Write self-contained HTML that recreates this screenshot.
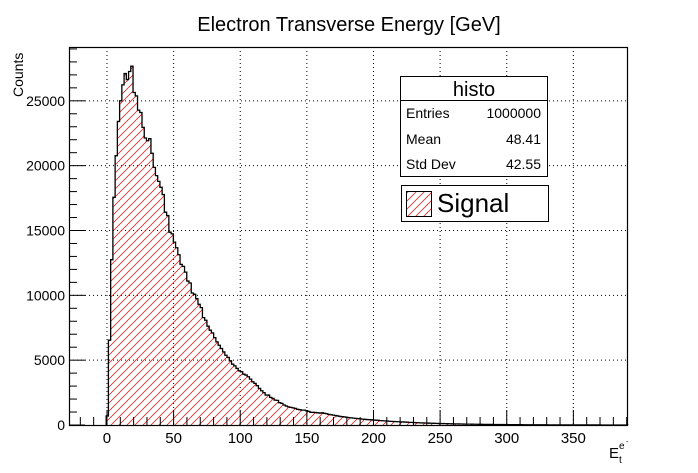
<!DOCTYPE html>
<html><head><meta charset="utf-8"><style>
html,body{margin:0;padding:0;background:#fff;}
svg{display:block;font-family:"Liberation Sans",sans-serif;}
</style></head><body>
<svg id="chart" width="698" height="473" viewBox="0 0 698 473" xmlns="http://www.w3.org/2000/svg">
<defs>
<pattern id="hatch" patternUnits="userSpaceOnUse" width="8" height="8">
<path d="M-1,9 L9,-1 M-1,1 L1,-1 M7,9 L9,7" stroke="#e00" stroke-width="0.7"/>
</pattern>
</defs>
<rect x="0" y="0" width="698" height="473" fill="#fff"/>
<g id="grid"></g>
<g id="hist"></g>
<g id="axes"></g>
<text x="349" y="31" font-size="20" text-anchor="middle">Electron Transverse Energy [GeV]</text>
<text transform="translate(23,97) rotate(-90)" font-size="14" text-anchor="start">Counts</text>
<g>
<text x="609" y="458" font-size="15">E</text>
<text x="619" y="463" font-size="10">t</text>
<text x="619" y="449" font-size="10">e</text>
<text x="626" y="444" font-size="7">-</text>
</g>
<g>
<rect x="400.5" y="76.5" width="147" height="100" fill="#fff" stroke="#000" stroke-width="1"/>
<line x1="400.5" y1="100.5" x2="547.5" y2="100.5" stroke="#000"/>
<text x="474" y="96" font-size="20" text-anchor="middle">histo</text>
<text x="406" y="118" font-size="14">Entries</text>
<text x="541" y="118" font-size="14" text-anchor="end">1000000</text>
<text x="406" y="144" font-size="14">Mean</text>
<text x="541" y="144" font-size="14" text-anchor="end">48.41</text>
<text x="406" y="169" font-size="14">Std Dev</text>
<text x="541" y="169" font-size="14" text-anchor="end">42.55</text>
</g>
<g>
<rect x="401.5" y="185.5" width="147" height="36" fill="#fff" stroke="#000"/>
<rect x="406.5" y="191.5" width="25" height="25" fill="url(#hatch)" stroke="#000"/>
<text x="437" y="212" font-size="26">Signal</text>
</g>
</svg>
<script>
const binStart = -0.6;
const binWidth = 1.68;
const counts = [700,6540,12750,17560,20770,23410,25000,26230,27100,26640,27260,27670,25640,25380,24280,24100,22950,22130,21920,22080,20950,19870,19230,18790,18330,17770,16410,16150,14870,14740,14100,13670,13130,
12380,12230,11790,11100,10950,10180,10080,9740,9310,9050,8280,8080,7620,7310,7100,6740,6410,6150,5900,5640,5380,5210,4950,4690,4560,4360,4180,4100,3920,3850,3720,3540,3330,3210,3030,2820,2640,2490,2310,2310,2130,2050,1920,1900,1720,1670,1540,1460,1400,1360,1320,1280,1210,1180,1150,1150,1100,1050,980,980,960,940,920,
940,900,870,820,790,760,730,700,660,640,620,600,570,550,530,510,490,470,450,440,420,410,400,380,370,360,340,330,320,310,290,280,270,260,250,240,235,225,215,205,200,190,180,175,165,160,155,150,140,135,130,125,120,115,110,105,100,95,92,88,85,80,78,75,70,68,65,62,60,57,55,52,50,48,46,44,
42,40,38,36,35,33,31,30,28,27,26,25,24,22,21,20,19,18,17,16,16,15,14,13,13,12,11,11,10,10,9,9,8,8,7,7,6,6,6,5,5,5,4,4,4,3,3,3,3,2,2,2,2,2,1,1,1,1,1,1,1];
const xTicks = [0,50,100,150,200,250,300,350];
const yTicks = [0,5000,10000,15000,20000,25000];
const xMin = -28.5, xMax = 391, yMin = 0, yMax = 29150;
const L = 69, R = 628, T = 47, B = 425;
function sx(v){return L + (v - xMin) / (xMax - xMin) * (R - L);}
function sy(v){return B - (v - yMin) / (yMax - yMin) * (B - T);}
const NS = "http://www.w3.org/2000/svg";
function mk(tag, attrs, parent){const e=document.createElementNS(NS,tag);for(const k in attrs)e.setAttribute(k,attrs[k]);parent.appendChild(e);return e;}
const grid = document.getElementById('grid');
const hist = document.getElementById('hist');
const axes = document.getElementById('axes');
xTicks.forEach(v=>{
  const g = mk('line',{x1:sx(v),x2:sx(v),y1:T,y2:B,stroke:'#000','stroke-width':1,'stroke-dasharray':'1,3'},grid);
  
  
});
yTicks.forEach(v=>{
  if(v===0) return;
  const g = mk('line',{x1:L,x2:R,y1:sy(v),y2:sy(v),stroke:'#000','stroke-width':1,'stroke-dasharray':'1,3'},grid);
  
  
});
let d = 'M' + sx(binStart) + ',' + sy(0);
counts.forEach((c,i)=>{
  const x0 = sx(binStart + i*binWidth), x1 = sx(binStart + (i+1)*binWidth);
  d += ' L' + x0.toFixed(2) + ',' + sy(c).toFixed(2) + ' L' + x1.toFixed(2) + ',' + sy(c).toFixed(2);
});
d += ' L' + sx(binStart + counts.length*binWidth).toFixed(2) + ',' + sy(0);
const area = mk('path',{d:d+' Z',fill:'url(#hatch)',stroke:'none'},hist);


const outline = mk('path',{d:d,fill:'none',stroke:'#000','stroke-width':1.3},hist);


const frame = mk('rect',{x:L+0.5,y:T+0.5,width:R-L-1,height:B-T,fill:'none',stroke:'#000','stroke-width':1.2},axes);


for(let v=-20; v<=390; v+=10){
  const major = v%50===0;
  const t = mk('line',{x1:sx(v),x2:sx(v),y1:B,y2:B-(major?15:8),stroke:'#000','stroke-width':1},axes);
  
  
}
for(let v=0; v<=29000; v+=1000){
  const major = v%5000===0;
  const t = mk('line',{x1:L,x2:L+(major?16:8),y1:sy(v),y2:sy(v),stroke:'#000','stroke-width':1},axes);
  
  
}
xTicks.forEach(v=>{
  const t = mk('text',{x:sx(v),y:443,'font-size':15,'text-anchor':'middle'},axes);
  t.textContent = v;
  
  
});
yTicks.forEach(v=>{
  const t = mk('text',{x:65,y:sy(v)+5,'font-size':14,'text-anchor':'end'},axes);
  t.textContent = v;
  
  
});
</script>
</body></html>
